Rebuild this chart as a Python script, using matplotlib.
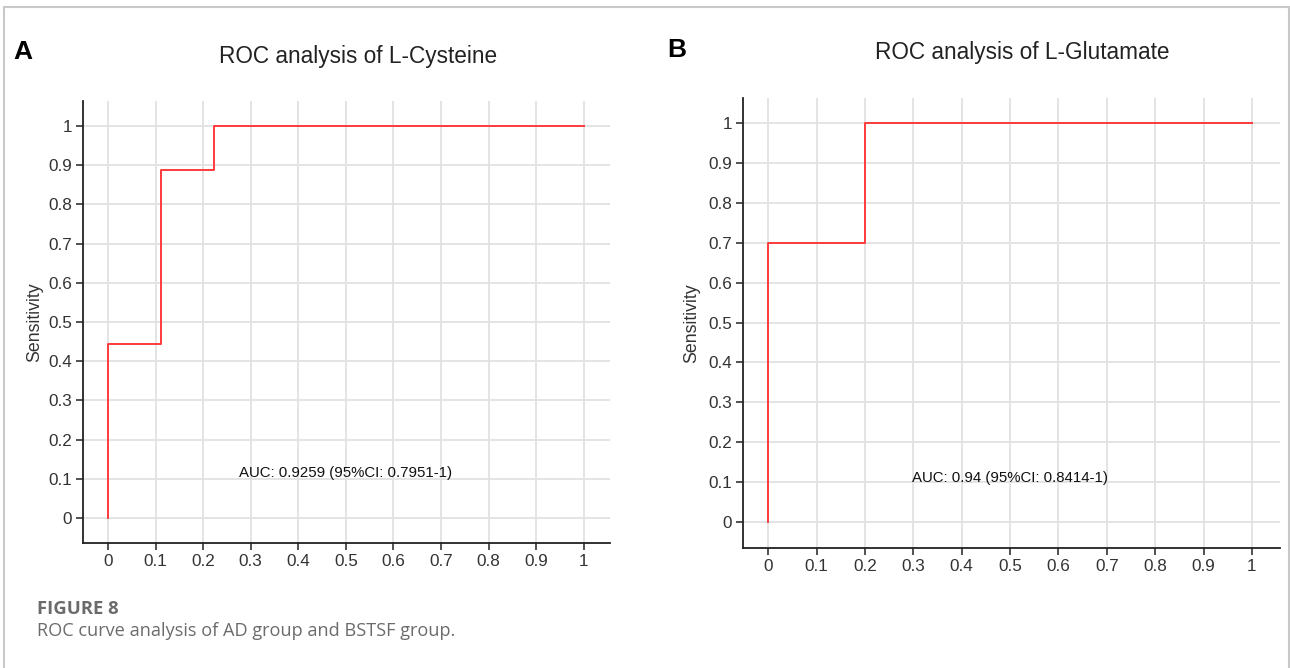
import matplotlib.pyplot as plt
from matplotlib.patches import Rectangle

# ROC step points (1 - specificity, sensitivity)
fpr_cys = [0, 0, 0.111, 0.111, 0.222, 0.222, 1]
tpr_cys = [0, 0.444, 0.444, 0.889, 0.889, 1, 1]
fpr_glu = [0, 0, 0.2, 0.2, 1]
tpr_glu = [0, 0.7, 0.7, 1, 1]

titles = ["ROC analysis of L-Cysteine", "ROC analysis of L-Glutamate"]
auc_labels = ["AUC: 0.9259 (95%CI: 0.7951-1)", "AUC: 0.94 (95%CI: 0.8414-1)"]
panel_labels = ["A", "B"]
ticks = [0, 0.1, 0.2, 0.3, 0.4, 0.5, 0.6, 0.7, 0.8, 0.9, 1]
tick_labels = ["0", "0.1", "0.2", "0.3", "0.4", "0.5", "0.6", "0.7", "0.8", "0.9", "1"]

LINE_COLOR = "#ff3b3b"
GRID_COLOR = "#e2e2e2"
TEXT_COLOR = "#333333"
W, H = 1290, 668

plt.rcParams["font.family"] = ["Liberation Sans", "DejaVu Sans"]

fig = plt.figure(figsize=(W / 100, H / 100), dpi=100)


def px(x0, y0, x1, y1):
    # axes rect from pixel box (left, top, right, bottom)
    return [x0 / W, 1 - y1 / H, (x1 - x0) / W, (y1 - y0) / H]


ax_a = fig.add_axes(px(83, 101, 610, 543))
ax_b = fig.add_axes(px(743, 98, 1280, 548))
limits = [((-0.0525, 1.055), (-0.064, 1.064)), ((-0.052, 1.058), (-0.065, 1.063))]
auc_y = [0.115, 0.11]
label_x = [-0.075, -0.08]

for ax, fpr, tpr, lim, ay, txt, lx in zip(
    [ax_a, ax_b], [fpr_cys, fpr_glu], [tpr_cys, tpr_glu], limits, auc_y, auc_labels, label_x
):
    ax.plot(fpr, tpr, color=LINE_COLOR, lw=1.4, zorder=3)
    ax.set_xlim(*lim[0])
    ax.set_ylim(*lim[1])
    ax.set_xticks(ticks)
    ax.set_xticklabels(tick_labels)
    ax.set_yticks(ticks)
    ax.set_yticklabels(tick_labels)
    ax.grid(True, color=GRID_COLOR, lw=1.3, zorder=0)
    ax.set_axisbelow(True)
    for s in ["top", "right"]:
        ax.spines[s].set_visible(False)
    for s in ["left", "bottom"]:
        ax.spines[s].set_linewidth(1.3)
        ax.spines[s].set_color("#222222")
    ax.tick_params(length=5, width=1.1, color="#222222", labelsize=12.3,
                   labelcolor=TEXT_COLOR, pad=3)
    ax.set_ylabel("Sensitivity", fontsize=12.8, color=TEXT_COLOR)
    ax.yaxis.set_label_coords(lx, 0.5)
    ax.text(0.5, ay, txt, ha="center", va="center", fontsize=10.8, color="#111111")

# titles and panel letters
fig.text(358 / W, 1 - 57 / H, titles[0], ha="center", va="center", fontsize=16.3, color="#222222")
fig.text(1022 / W, 1 - 52 / H, titles[1], ha="center", va="center", fontsize=16.3, color="#222222")
fig.text(13 / W, 1 - 52 / H, panel_labels[0], ha="left", va="center", fontsize=19, fontweight="bold")
fig.text(667 / W, 1 - 50 / H, panel_labels[1], ha="left", va="center", fontsize=19, fontweight="bold")

# caption
fig.text(37 / W, 1 - 609 / H, "FIGURE 8", ha="left", va="center", fontsize=13.3,
         fontweight="bold", color="#6b6b6b", family=["Open Sans", "DejaVu Sans"])
fig.text(37 / W, 1 - 631 / H, "ROC curve analysis of AD group and BSTSF group.", ha="left",
         va="center", fontsize=13.1, color="#6b6b6b", family=["Open Sans", "DejaVu Sans"])

# frame around the figure
fig.add_artist(Rectangle((4 / W, -0.05), 1285 / W, 1.05 - 7 / H, transform=fig.transFigure,
                         fill=False, edgecolor="#c8c8c8", lw=1.5))

fig.savefig("out.png", dpi=100)
